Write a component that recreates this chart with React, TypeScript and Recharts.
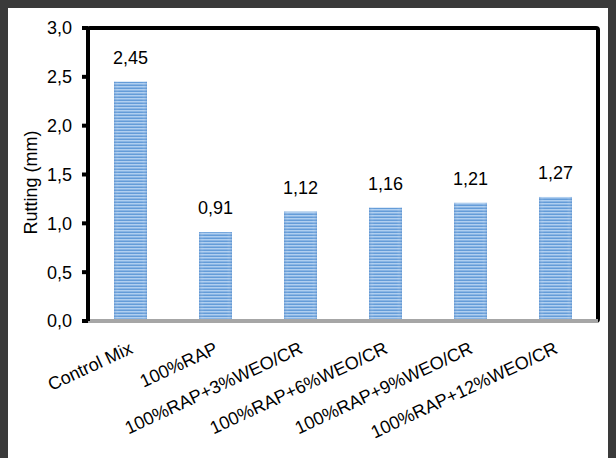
import React from "react";
import * as R from "recharts";
import { Bar, BarChart, LabelList, XAxis, YAxis } from "recharts";

const mixes = [
  "Control Mix",
  "100%RAP",
  "100%RAP+3%WEO/CR",
  "100%RAP+6%WEO/CR",
  "100%RAP+9%WEO/CR",
  "100%RAP+12%WEO/CR",
];
const rutting = [2.45, 0.91, 1.12, 1.16, 1.21, 1.27];
const yTicks = [0, 0.5, 1, 1.5, 2, 2.5, 3];

const data = mixes.map((name, i) => ({ name, rutting: rutting[i] }));

const FONT = "'Liberation Sans', Arial, sans-serif";
const comma = (v: number, digits: number) => v.toFixed(digits).replace(".", ",");

const usePlot: () => any = (R as any).usePlotArea ?? (R as any).useOffset;

// black box round the plotting area, like the spreadsheet chart frame
function PlotFrame() {
  const area = usePlot();
  if (!area) return null;
  const x = area.x ?? area.left;
  const y = area.y ?? area.top;
  return (
    <rect
      x={x}
      y={y}
      width={area.width}
      height={area.height}
      rx={2}
      fill="none"
      stroke="#000"
      strokeWidth={4}
    />
  );
}

function StripedBar({ x, y, width, height }: any) {
  if (!height || height <= 0) return null;
  return (
    <g>
      <rect x={x} y={y} width={width} height={height} fill="url(#stripes)" />
      <rect x={x} y={y} width={width} height={height} fill="url(#edgeShade)" />
    </g>
  );
}

function MixTick({ x, y, payload }: any) {
  return (
    <g transform={`translate(${x - 2},${y + 12})`}>
      <text
        transform="rotate(-25)"
        textAnchor="end"
        dy="0.71em"
        fontSize={18}
        fontFamily={FONT}
        fill="#000"
      >
        {payload.value}
      </text>
    </g>
  );
}

export default function App() {
  React.useEffect(() => {
    document.body.style.background = "#3a3a3a";
  }, []);

  return (
    <div style={{ width: 608, height: 450, background: "#fff" }}>
      <BarChart
        width={608}
        height={450}
        data={data}
        margin={{ top: 20, right: 18, left: 20, bottom: 0 }}
      >
        <defs>
          <pattern id="stripes" width="6" height="3" patternUnits="userSpaceOnUse">
            <rect width="6" height="3" fill="#b0cff0" />
            <rect y="1.5" width="6" height="1.5" fill="#649cd8" />
          </pattern>
          <linearGradient id="edgeShade" x1="0" y1="0" x2="1" y2="0">
            <stop offset="0" stopColor="#4f86c6" stopOpacity={0.35} />
            <stop offset="0.15" stopColor="#ffffff" stopOpacity={0} />
            <stop offset="0.85" stopColor="#ffffff" stopOpacity={0} />
            <stop offset="1" stopColor="#4f86c6" stopOpacity={0.35} />
          </linearGradient>
        </defs>
        <PlotFrame />
        <XAxis
          dataKey="name"
          interval={0}
          height={137}
          tick={<MixTick />}
          tickLine={false}
          axisLine={{ stroke: "#a6a6a6", strokeWidth: 4 }}
        />
        <YAxis
          domain={[0, 3]}
          ticks={yTicks}
          width={60}
          tickSize={6}
          tickMargin={10}
          tickFormatter={(v: number) => comma(v, 1)}
          tick={{ fontSize: 18, fontFamily: FONT, fill: "#000" }}
          tickLine={{ stroke: "#000", strokeWidth: 4 }}
          axisLine={{ stroke: "#000", strokeWidth: 4 }}
          label={{
            value: "Rutting (mm)",
            angle: -90,
            position: "insideLeft",
            dx: -2,
            dy: 60,
            fontSize: 18,
            fontFamily: FONT,
            fill: "#000",
          }}
        />
        <Bar
          dataKey="rutting"
          barSize={33}
          shape={<StripedBar />}
          isAnimationActive={false}
        >
          <LabelList
            dataKey="rutting"
            position="top"
            offset={18}
            formatter={(v: number) => comma(v, 2)}
            fontSize={18}
            fontFamily={FONT}
            fill="#000"
          />
        </Bar>
      </BarChart>
    </div>
  );
}
